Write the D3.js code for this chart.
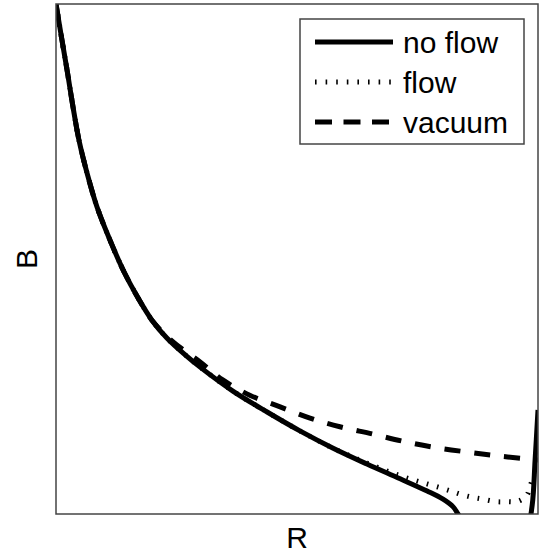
<!DOCTYPE html>
<html>
<head>
<meta charset="utf-8">
<script src="https://cdn.jsdelivr.net/npm/d3@7"></script>
<style>
  body { margin: 0; background: #fff; }
  text { font-family: "Liberation Sans", Arial, sans-serif; fill: #000; }
</style>
</head>
<body>
<div id="chart"></div>
<script>
// curves (R and B in arbitrary units, 0..100)
var no_flow_R = [0, 1.24, 2.39, 3.53, 4.77, 6.43, 8.51, 11.2, 14.1, 17.0, 19.9, 23.0, 26.8, 29.9, 36.7, 43.8, 50.6, 57.5, 64.5, 71.4, 77.0, 80.3, 82.4, 83.4, 84.9, 90.0, 95.2, 97.9, 98.8, 99.4, 100];
var no_flow_B = [100, 92.9, 86.5, 79.8, 73.3, 66.9, 60.2, 53.7, 47.5, 42.4, 38.0, 34.5, 31.2, 28.8, 24.1, 20.0, 16.3, 12.9, 9.8, 6.9, 4.5, 2.9, 1.4, 0, -2.0, -5.1, -5.1, -2.2, 1.8, 10.6, 20.4];

var flow_R = [0, 1.24, 2.39, 3.53, 4.77, 6.43, 8.51, 11.2, 14.1, 17.0, 19.9, 23.0, 26.8, 29.9, 36.7, 43.8, 50.6, 57.5, 64.5, 71.4, 77.0, 81.3, 83.8, 86.3, 88.6, 91.5, 93.6, 95.9, 97.7, 98.3, 99.0];
var flow_B = [100, 92.9, 86.5, 79.8, 73.3, 66.9, 60.2, 53.7, 47.5, 42.4, 38.0, 34.5, 31.2, 28.8, 24.1, 20.0, 16.3, 12.9, 10.0, 7.5, 5.9, 4.7, 3.9, 3.3, 2.9, 2.4, 2.4, 2.5, 3.7, 5.3, 7.3];

var vacuum_R = [0, 1.24, 2.39, 3.53, 4.77, 6.43, 8.51, 11.2, 14.1, 17.0, 19.9, 24.1, 29.9, 34.6, 40.2, 46.5, 52.7, 58.9, 65.6, 71.8, 78.2, 84.9, 91.5, 97.9, 100];
var vacuum_B = [100, 92.9, 86.5, 79.8, 73.3, 66.9, 60.2, 53.7, 47.5, 42.4, 38.0, 33.9, 29.8, 26.3, 23.3, 21.0, 18.8, 17.1, 15.7, 14.3, 13.1, 12.2, 11.4, 10.8, 10.6];

var series_names = ['no flow', 'flow', 'vacuum'];
var series_dash = ['none', '1.6,9', '16,14'];

var width = 542, height = 556;
var margin = {left: 56, top: 4, right: 4, bottom: 42};

var svg = d3.select('#chart').append('svg')
  .attr('width', width)
  .attr('height', height);

var x = d3.scaleLinear().domain([0, 100]).range([margin.left, width - margin.right]);
var y = d3.scaleLinear().domain([0, 100]).range([height - margin.bottom, margin.top]);

svg.append('clipPath')
  .attr('id', 'plot_clip')
  .append('rect')
  .attr('x', x(0))
  .attr('y', y(100))
  .attr('width', x(100) - x(0))
  .attr('height', y(0) - y(100));

function zip(rs, bs){
  return rs.map(function(r, i){ return [r, bs[i]]; });
}

var series = [zip(no_flow_R, no_flow_B), zip(flow_R, flow_B), zip(vacuum_R, vacuum_B)];

var line = d3.line()
  .x(function(d){ return x(d[0]); })
  .y(function(d){ return y(d[1]); })
  .curve(d3.curveCatmullRom.alpha(0.5));

var plot = svg.append('g').attr('clip-path', 'url(#plot_clip)');

plot.selectAll('path.curve')
  .data(series)
  .enter()
  .append('path')
  .classed('curve', true)
  .attr('d', line)
  .style('fill', 'none')
  .style('stroke', '#000')
  .style('stroke-width', 5)
  .style('stroke-linecap', 'butt')
  .style('stroke-dasharray', function(d, i){ return series_dash[i]; });

// frame
svg.append('rect')
  .attr('x', x(0))
  .attr('y', y(100))
  .attr('width', x(100) - x(0))
  .attr('height', y(0) - y(100))
  .style('fill', 'none')
  .style('stroke', '#444')
  .style('stroke-width', 1.5);

// axis titles
svg.append('text')
  .attr('x', (x(0) + x(100)) / 2)
  .attr('y', 548)
  .attr('text-anchor', 'middle')
  .style('font-size', '30px')
  .text('R');

svg.append('text')
  .attr('transform', 'translate(37,' + ((y(0) + y(100)) / 2) + ') rotate(-90)')
  .attr('text-anchor', 'middle')
  .style('font-size', '30px')
  .text('B');

// legend
var legend = svg.append('g');

legend.append('rect')
  .attr('x', 300)
  .attr('y', 19)
  .attr('width', 224)
  .attr('height', 125)
  .style('fill', '#fff')
  .style('stroke', '#444')
  .style('stroke-width', 1.5);

var rows = legend.selectAll('g.row')
  .data(series_names)
  .enter()
  .append('g')
  .classed('row', true)
  .attr('transform', function(d, i){ return 'translate(0,' + (42 + i * 40) + ')'; });

rows.append('line')
  .attr('x1', 315)
  .attr('x2', 393)
  .style('stroke', '#000')
  .style('stroke-width', 5)
  .style('stroke-dasharray', function(d, i){ return i === 2 ? '17,11.5' : series_dash[i]; });

rows.append('text')
  .attr('x', 403)
  .attr('y', 11)
  .style('font-size', '30px')
  .text(function(d){ return d; });
</script>
</body>
</html>
